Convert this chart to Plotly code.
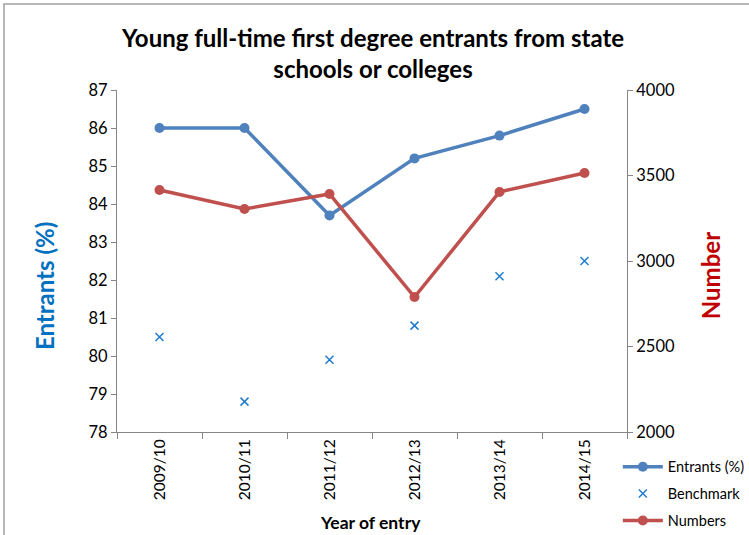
import plotly.graph_objects as go

years = ["2009/10", "2010/11", "2011/12", "2012/13", "2013/14", "2014/15"]
entrants_pct = [86.0, 86.0, 83.7, 85.2, 85.8, 86.5]
benchmark_pct = [80.5, 78.8, 79.9, 80.8, 82.1, 82.5]
numbers = [3415, 3304, 3392, 2789, 3404, 3515]

FONT = "Lato"
AXIS_GREY = "#868686"

fig = go.Figure()

fig.add_trace(go.Scatter(
    x=years, y=entrants_pct, name="Entrants (%)", mode="lines+markers",
    legendgroup="a",
    line=dict(color="#4F81BD", width=3.5),
    marker=dict(color="#4F81BD", size=10, symbol="circle"),
))
fig.add_trace(go.Scatter(
    x=years, y=benchmark_pct, name="Benchmark", mode="markers",
    legendgroup="b",
    marker=dict(color="#1F7BD0", size=8, symbol="x-thin",
                line=dict(color="#1F7BD0", width=1.5)),
))
fig.add_trace(go.Scatter(
    x=years, y=numbers, name="Numbers", mode="lines+markers", yaxis="y2",
    legendgroup="c",
    line=dict(color="#C0504D", width=3.5),
    marker=dict(color="#C0504D", size=10, symbol="circle"),
))

# chart frame
fig.add_shape(type="rect", xref="paper", yref="paper",
              x0=-0.2216, x1=1.27, y0=-0.33, y1=1.2515,
              line=dict(color="#A0A0A0", width=1.5), fillcolor="rgba(0,0,0,0)")

annotations = [
    dict(text="<b>Young full-time first degree entrants from state<br>schools or colleges</b>",
         x=0.5, y=1.108, xref="paper", yref="paper", xanchor="center", yanchor="middle",
         showarrow=False, font=dict(family=FONT, size=24, color="#000000")),
    dict(text="<b>Entrants (%)</b>", x=-0.141, y=0.427, xref="paper", yref="paper",
         xanchor="center", yanchor="middle", textangle=-90, showarrow=False,
         font=dict(family=FONT, size=24, color="#0070C0")),
    dict(text="<b>Number</b>", x=1.163, y=0.456, xref="paper", yref="paper",
         xanchor="center", yanchor="middle", textangle=-90, showarrow=False,
         font=dict(family=FONT, size=24, color="#C00000")),
    dict(text="<b>Year of entry</b>", x=0.498, y=-0.266, xref="paper", yref="paper",
         xanchor="center", yanchor="middle", showarrow=False,
         font=dict(family=FONT, size=17.5, color="#000000")),
]

fig.update_layout(
    width=749, height=535,
    margin=dict(l=117, r=122, t=90, b=103, autoexpand=False),
    paper_bgcolor="white", plot_bgcolor="white",
    font=dict(family=FONT, color="#000000", size=15),
    annotations=annotations,
    xaxis=dict(
        type="category", showgrid=False, showline=True, linecolor=AXIS_GREY,
        linewidth=1, ticks="outside", tickcolor=AXIS_GREY, ticklen=6,
        tickangle=-90, tickson="boundaries", tickfont=dict(size=15.5),
        range=[-0.5, 5.5],
    ),
    yaxis=dict(
        range=[78, 87], dtick=1, showgrid=False, showline=True,
        linecolor=AXIS_GREY, linewidth=1, ticks="outside", tickcolor=AXIS_GREY,
        ticklen=5, tickfont=dict(size=16.5), zeroline=False,
    ),
    yaxis2=dict(
        range=[2000, 4000], dtick=500, overlaying="y", side="right",
        showgrid=False, showline=True, linecolor=AXIS_GREY, linewidth=1,
        ticks="outside", tickcolor=AXIS_GREY, ticklen=5,
        tickfont=dict(size=16.5), zeroline=False,
    ),
    legend=dict(
        x=0.982, xanchor="left", y=-0.055, yanchor="top",
        font=dict(size=14.5), bgcolor="rgba(0,0,0,0)",
        tracegroupgap=5, itemwidth=40,
    ),
    showlegend=True,
)

fig.write_html("out.html")
